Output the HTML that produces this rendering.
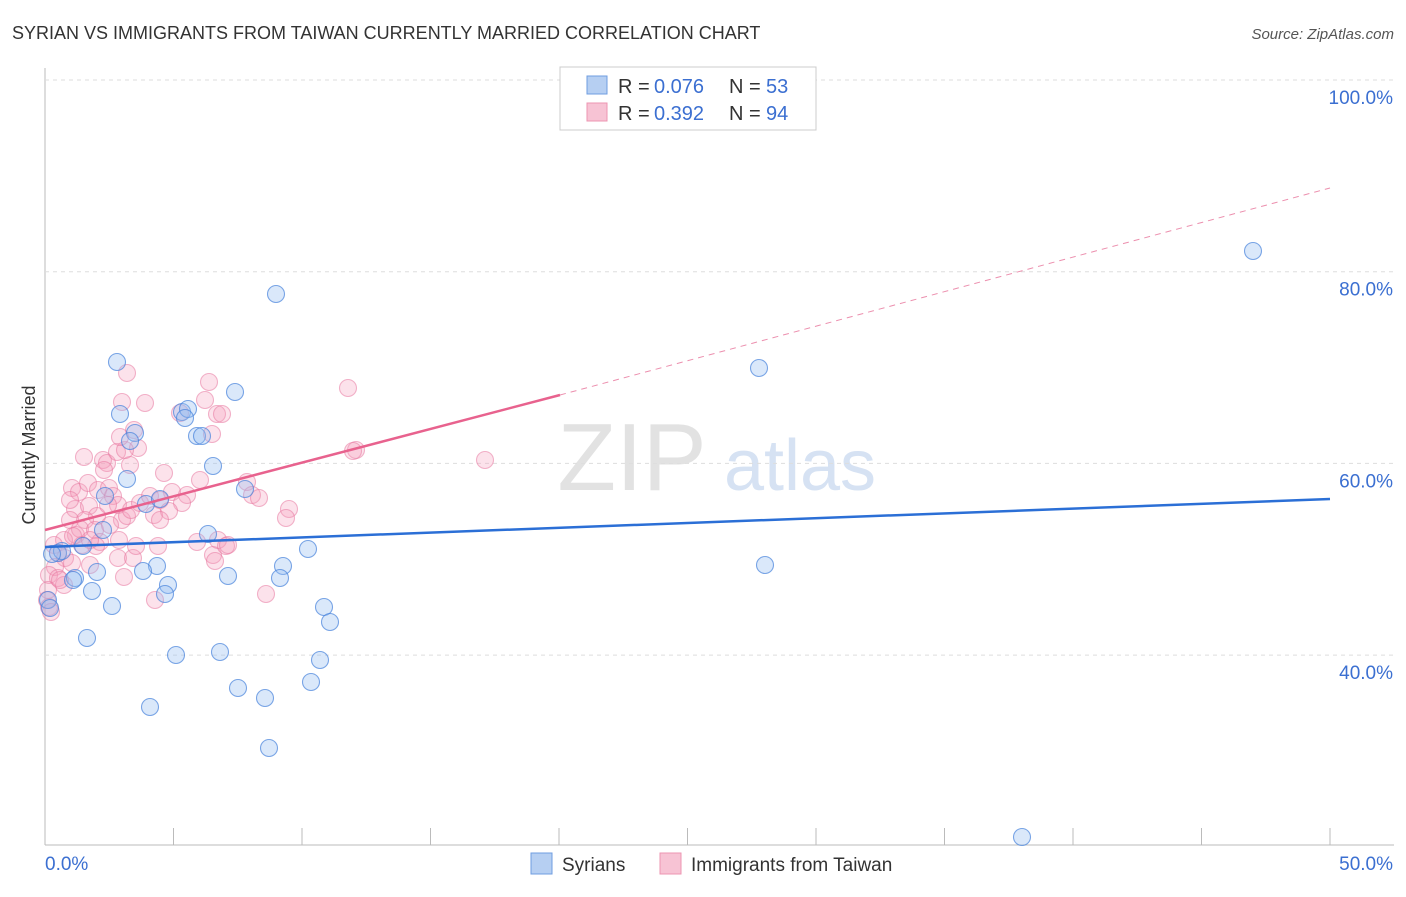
<!DOCTYPE html>
<html><head><meta charset="utf-8"><style>
body{margin:0;background:#fff;font-family:"Liberation Sans",sans-serif;}
svg text{font-family:"Liberation Sans",sans-serif;}
</style></head><body>
<svg id="chart" width="1406" height="892" xmlns="http://www.w3.org/2000/svg">
<text x="12" y="39" font-size="18" fill="#333">SYRIAN VS IMMIGRANTS FROM TAIWAN CURRENTLY MARRIED CORRELATION CHART</text>
<text x="1394" y="39" font-size="15" fill="#555" font-style="italic" text-anchor="end">Source: ZipAtlas.com</text>
<text x="35" y="455" font-size="18" fill="#333" transform="rotate(-90 35 455)" text-anchor="middle">Currently Married</text>
<g><text x="632" y="490" font-size="96" fill="#e2e2e2" font-family="Liberation Serif" text-anchor="middle">ZIP</text><text x="800" y="490" font-size="72" fill="#d6e2f3" text-anchor="middle">atlas</text></g>
<g id="grid"></g><g id="pts"></g><g id="lines"></g>
<g>
<rect x="560" y="67" width="256" height="63" fill="#fff" stroke="#ccc"/>
<rect x="587" y="76" width="20" height="18" fill="#b6cff2" stroke="#6f9de0"/>
<rect x="587" y="103" width="20" height="18" fill="#f7c3d4" stroke="#ec94b2"/>
<text x="618" y="93" font-size="20" fill="#333">R = </text><text x="654" y="93" font-size="20" fill="#3b6fd1">0.076</text>
<text x="729" y="93" font-size="20" fill="#333">N = </text><text x="766" y="93" font-size="20" fill="#3b6fd1">53</text>
<text x="618" y="120" font-size="20" fill="#333">R = </text><text x="654" y="120" font-size="20" fill="#3b6fd1">0.392</text>
<text x="729" y="120" font-size="20" fill="#333">N = </text><text x="766" y="120" font-size="20" fill="#3b6fd1">94</text>
</g>
<g>
<rect x="531" y="853" width="21" height="21" fill="#b6cff2" stroke="#6f9de0"/>
<text x="562" y="871" font-size="19" fill="#333">Syrians</text>
<rect x="660" y="853" width="21" height="21" fill="#f7c3d4" stroke="#ec94b2"/>
<text x="691" y="871" font-size="19" fill="#333">Immigrants from Taiwan</text>
</g>
</svg>
<script>
const yTicks=[100,80,60,40];
const xTickLabels=["0.0%","50.0%"];
const blueX=[117,120,135,130,182,188,185,197,202,235,213,276,127,105,146,160,245,208,103,58,62,83,308,283,280,228,157,143,97,75,73,168,165,92,112,87,324,330,220,176,320,311,238,265,150,269,52,759,1253,765,1022,48,50];
const blueY=[362,414,433,441,412,409,418,436,436,392,466,294,479,496,504,499,489,534,530,553,551,546,549,566,578,576,566,571,572,578,580,585,594,591,606,638,607,622,652,655,660,682,688,698,707,748,554,368,251,565,837,600,608];
const pinkX=[127,122,145,180,209,205,217,222,212,348,356,353,485,164,247,252,259,289,286,84,103,107,117,130,138,125,72,79,88,98,109,113,118,75,89,97,85,70,122,127,131,140,154,150,172,187,182,160,169,76,80,95,110,100,96,82,64,54,58,65,72,55,49,58,64,119,118,133,158,197,213,218,226,228,215,136,124,155,266,48,47,49,51,60,73,90,134,120,104,108,70,90,160,200];
const pinkY=[373,402,403,413,382,400,414,414,434,388,450,451,460,473,482,495,498,509,518,457,460,463,452,465,448,450,488,492,483,490,488,496,505,509,506,516,520,520,520,516,510,503,515,496,492,495,503,500,511,535,529,530,525,542,546,545,540,545,553,558,563,567,575,578,585,540,558,558,546,542,555,540,546,545,561,546,577,600,594,590,600,607,612,580,536,540,430,437,470,505,500,565,520,480];
const X0=45,X1=1330,Y100=80,PXPER=9.585;
const toXv=p=>(p-X0)/(X1-X0)*50, toYv=p=>100-(p-Y100)/PXPER;
const blueXv=blueX.map(toXv), blueYv=blueY.map(toYv), pinkXv=pinkX.map(toXv), pinkYv=pinkY.map(toYv);
const xs=v=>X0+v/50*(X1-X0), ys=v=>Y100+(100-v)*PXPER;
const NS="http://www.w3.org/2000/svg";
function mk(t,a,p){const e=document.createElementNS(NS,t);for(const k in a)e.setAttribute(k,a[k]);p.appendChild(e);return e;}
const grid=document.getElementById('grid');
mk('line',{x1:45,y1:68,x2:45,y2:845,stroke:'#bbb'},grid);
mk('line',{x1:45,y1:845,x2:1394,y2:845,stroke:'#bbb'},grid);
for(let i=0;i<=10;i++){mk('line',{x1:45+i*128.5,y1:828,x2:45+i*128.5,y2:845,stroke:'#bbb'},grid);}
yTicks.forEach(t=>{const y=ys(t);
const l=mk('line',{x1:45,y1:y,x2:1394,y2:y,stroke:'#ddd','stroke-dasharray':'4,4'},grid);


const tx=mk('text',{x:1393,y:y+24,'font-size':19,fill:'#3b6fd1','text-anchor':'end'},grid);tx.textContent=t.toFixed(1)+'%';

});
const xl0=mk('text',{x:45,y:870,'font-size':19,fill:'#3b6fd1'},grid);xl0.textContent=xTickLabels[0];
const xl1=mk('text',{x:1393,y:870,'font-size':19,fill:'#3b6fd1','text-anchor':'end'},grid);xl1.textContent=xTickLabels[1];
const pts=document.getElementById('pts');
pinkXv.forEach((v,i)=>{const c=mk('circle',{cx:xs(v),cy:ys(pinkYv[i]),r:8.5,fill:'rgba(244,160,190,0.3)',stroke:'rgba(232,120,160,0.55)','stroke-width':1.1},pts);

});
blueXv.forEach((v,i)=>{const c=mk('circle',{cx:xs(v),cy:ys(blueYv[i]),r:8.5,fill:'rgba(150,190,240,0.35)',stroke:'rgba(70,130,220,0.7)','stroke-width':1.1},pts);

});
const lines=document.getElementById('lines');
const bl=mk('line',{x1:xs(0),y1:ys(toYv(547)),x2:xs(50),y2:ys(toYv(499)),stroke:'#2b6fd6','stroke-width':2.5},lines);


const ps=mk('line',{x1:xs(0),y1:530,x2:560,y2:395,stroke:'#e8628e','stroke-width':2.5},lines);


const pd=mk('line',{x1:560,y1:395,x2:1330,y2:188,stroke:'#ec8fae','stroke-width':1,'stroke-dasharray':'6,5'},lines);


</script>
</body></html>
